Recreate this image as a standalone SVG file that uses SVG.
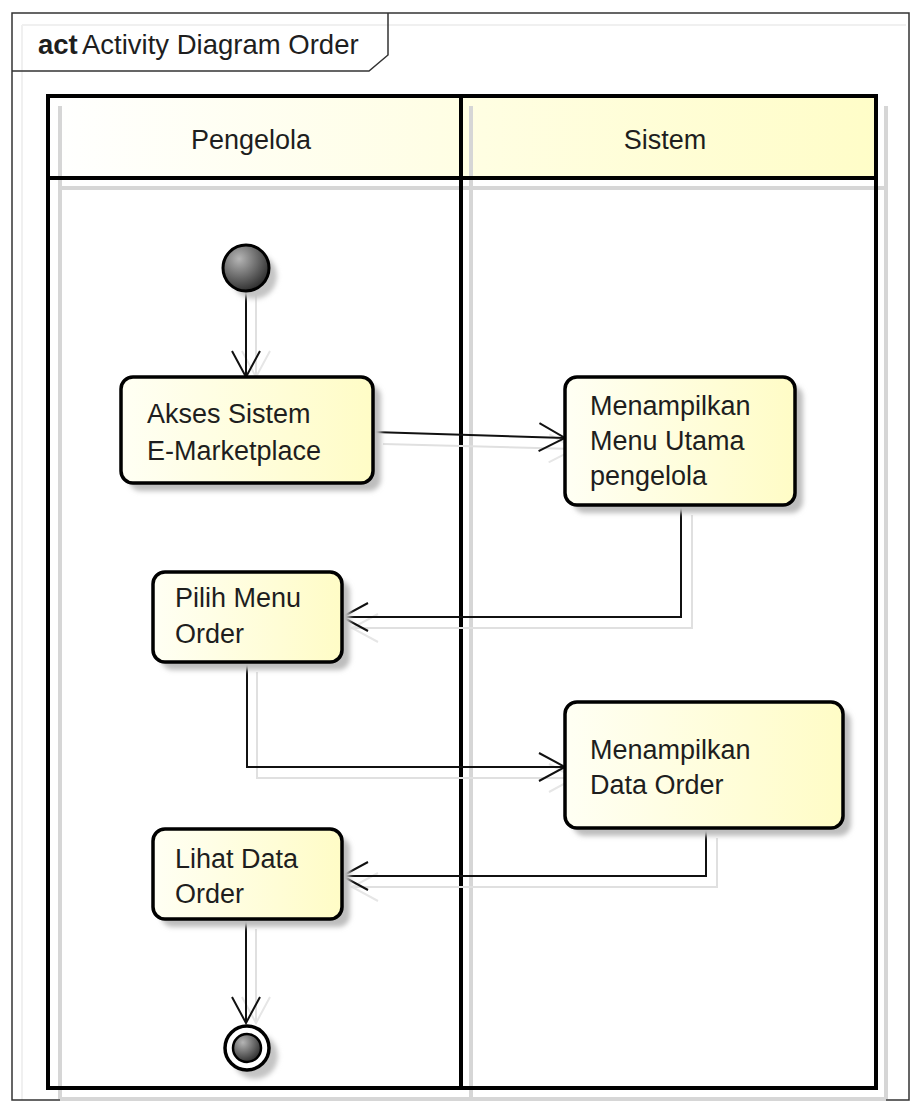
<svg xmlns="http://www.w3.org/2000/svg" width="911" height="1104" viewBox="0 0 911 1104">
  <style>
    .txt { font-family: "Liberation Sans", Arial, sans-serif; font-size: 27px; fill: #1e1e1e; }
    .title { font-size: 27.5px; }
    .frame { fill: none; stroke: #333; stroke-width: 1.5; }
    .lane { fill: none; stroke: #000; stroke-width: 4; }
    .laneShadow { fill: none; stroke: #d6d6d6; stroke-width: 4; }
    .box { fill: url(#boxFill); stroke: #000; stroke-width: 3.5; }
    .boxShadow { fill: #bdbdbd; filter: url(#soft); }
    .edge { fill: none; stroke: #111; stroke-width: 2; }
    .edgeShadow { fill: none; stroke: #e0e0e0; stroke-width: 2; }
  </style>
  <defs>
    <linearGradient id="boxFill" x1="0" y1="0" x2="1" y2="0">
      <stop offset="0" stop-color="#fffff4"/>
      <stop offset="1" stop-color="#fffcc6"/>
    </linearGradient>
    <linearGradient id="headFill" x1="0" y1="0" x2="1" y2="0">
      <stop offset="0" stop-color="#ffffff"/>
      <stop offset="1" stop-color="#fffdc8"/>
    </linearGradient>
    <radialGradient id="ball" cx="0.35" cy="0.3" r="0.75">
      <stop offset="0" stop-color="#b5b5b5"/>
      <stop offset="1" stop-color="#2a2a2a"/>
    </radialGradient>
    <filter id="soft" x="-20%" y="-20%" width="140%" height="140%">
      <feGaussianBlur stdDeviation="2.5"/>
    </filter>
    <marker id="open" viewBox="0 0 30 30" refX="28" refY="15" markerWidth="30" markerHeight="30" markerUnits="userSpaceOnUse" orient="auto">
      <path d="M2,1 L28,15 L2,29" fill="none" stroke="#111" stroke-width="2"/>
    </marker>
    <marker id="openShadow" viewBox="0 0 30 30" refX="28" refY="15" markerWidth="30" markerHeight="30" markerUnits="userSpaceOnUse" orient="auto">
      <path d="M2,1 L28,15 L2,29" fill="none" stroke="#e6e6e6" stroke-width="2"/>
    </marker>
  </defs>

  <rect width="911" height="1104" fill="#fff"/>

  <!-- diagram frame -->
  <g id="frame">
    <path d="M22,25 H906 M22,25 V1100" fill="none" stroke="#f0f0f0" stroke-width="2"/>
    <rect x="12" y="13" width="897" height="1087" class="frame"/>
    <path d="M12,71 H369 L388,55 V13" class="frame"/>
    <text x="38" y="54" class="txt title" style="font-weight:bold">act</text>
    <text x="82" y="54" class="txt title">Activity Diagram Order</text>
  </g>

  <!-- swimlanes -->
  <g id="lanes">
    <rect x="48" y="96" width="828" height="82" fill="url(#headFill)"/>
    <path d="M60,106 V1099 M471,106 V1099 M886,106 V1099 M60,188 H886 M60,1099 H886" class="laneShadow"/>
    <rect x="48" y="96" width="828" height="992" class="lane"/>
    <path d="M48,178 H876 M461,96 V1088" class="lane"/>
    <text x="251" y="149" class="txt" text-anchor="middle">Pengelola</text>
    <text x="665" y="149" class="txt" text-anchor="middle">Sistem</text>
  </g>

  <!-- connectors -->
  <g id="connectors">
    <path d="M256,292 V377" class="edgeShadow" marker-end="url(#openShadow)"/>
    <path d="M383,444 L575,449" class="edgeShadow" marker-end="url(#openShadow)"/>
    <path d="M692,515 V628 H352" class="edgeShadow" marker-end="url(#openShadow)"/>
    <path d="M257,672 V778 H575" class="edgeShadow" marker-end="url(#openShadow)"/>
    <path d="M717,838 V887 H352" class="edgeShadow" marker-end="url(#openShadow)"/>
    <path d="M256,929 V1023" class="edgeShadow" marker-end="url(#openShadow)"/>

    <path d="M246,290 V377" class="edge" marker-end="url(#open)"/>
    <path d="M373,432 L565,438" class="edge" marker-end="url(#open)"/>
    <path d="M681,505 V617 H342" class="edge" marker-end="url(#open)"/>
    <path d="M247,662 V767 H565" class="edge" marker-end="url(#open)"/>
    <path d="M706,828 V876 H342" class="edge" marker-end="url(#open)"/>
    <path d="M246,919 V1023" class="edge" marker-end="url(#open)"/>
  </g>

  <!-- initial node -->
  <g id="start">
    <circle cx="254" cy="276" r="23" fill="#c4c4c4" filter="url(#soft)"/>
    <circle cx="246" cy="268" r="23" fill="url(#ball)" stroke="#000" stroke-width="3"/>
  </g>

  <g id="akses">
    <rect x="129" y="385" width="252" height="106" rx="12" class="boxShadow"/>
    <rect x="121" y="377" width="252" height="106" rx="12" class="box"/>
    <text x="147" y="423" class="txt">Akses Sistem</text>
    <text x="147" y="460" class="txt">E-Marketplace</text>
  </g>

  <g id="menu-utama">
    <rect x="573" y="385" width="230" height="128" rx="12" class="boxShadow"/>
    <rect x="565" y="377" width="230" height="128" rx="12" class="box"/>
    <text x="590" y="415" class="txt">Menampilkan</text>
    <text x="590" y="450" class="txt">Menu Utama</text>
    <text x="590" y="485" class="txt">pengelola</text>
  </g>

  <g id="pilih-menu">
    <rect x="161" y="580" width="189" height="90" rx="12" class="boxShadow"/>
    <rect x="153" y="572" width="189" height="90" rx="12" class="box"/>
    <text x="175" y="607" class="txt">Pilih Menu</text>
    <text x="175" y="643" class="txt">Order</text>
  </g>

  <g id="data-order">
    <rect x="573" y="710" width="278" height="126" rx="12" class="boxShadow"/>
    <rect x="565" y="702" width="278" height="126" rx="12" class="box"/>
    <text x="590" y="759" class="txt">Menampilkan</text>
    <text x="590" y="794" class="txt">Data Order</text>
  </g>

  <g id="lihat-data">
    <rect x="161" y="837" width="189" height="90" rx="12" class="boxShadow"/>
    <rect x="153" y="829" width="189" height="90" rx="12" class="box"/>
    <text x="175" y="868" class="txt">Lihat Data</text>
    <text x="175" y="903" class="txt">Order</text>
  </g>

  <!-- final node -->
  <g id="end">
    <circle cx="255" cy="1056" r="23" fill="#c4c4c4" filter="url(#soft)"/>
    <circle cx="247" cy="1048" r="22" fill="#fff" stroke="#000" stroke-width="3.5"/>
    <circle cx="247" cy="1048" r="14" fill="url(#ball)" stroke="#000" stroke-width="2.5"/>
  </g>
</svg>
